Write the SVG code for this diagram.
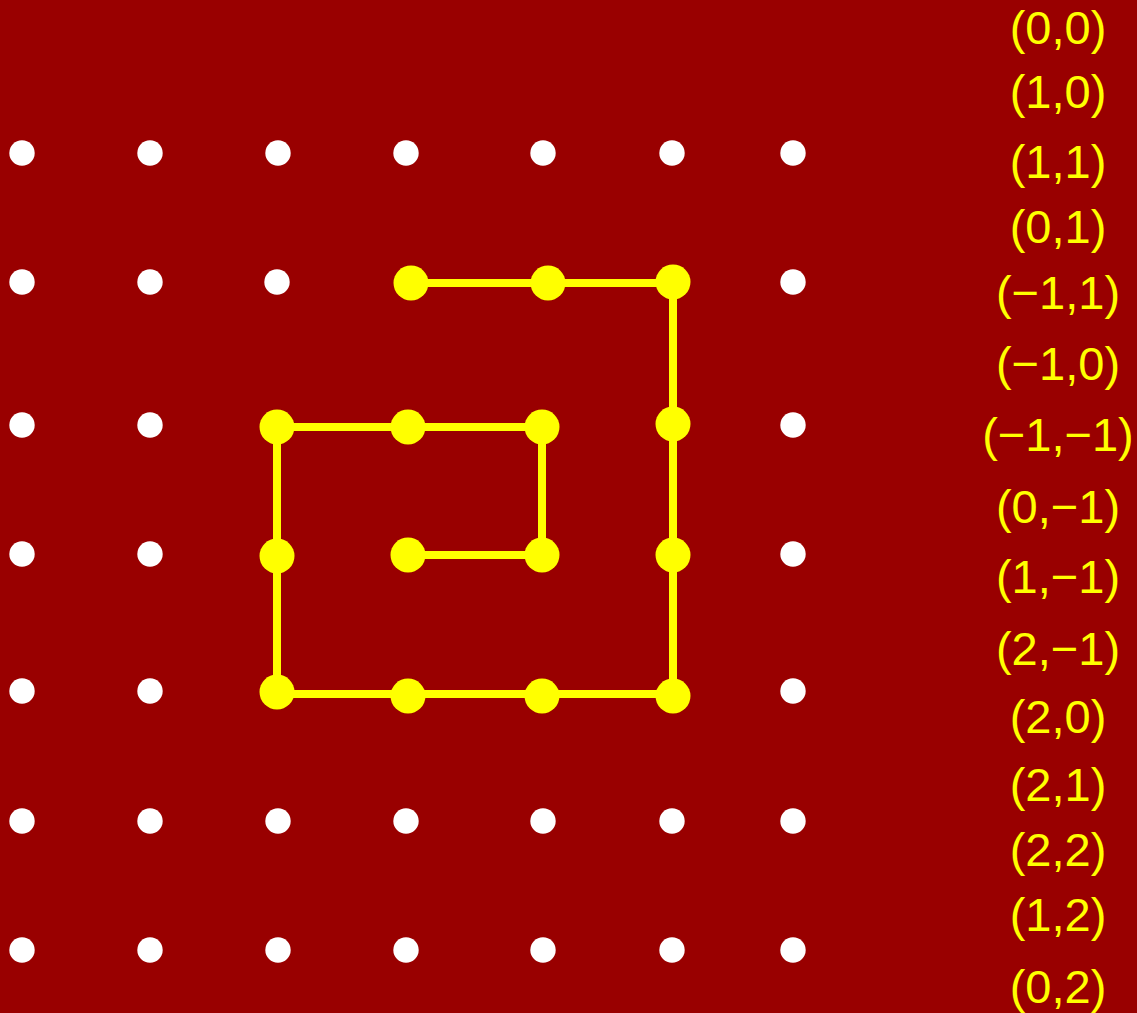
<svg xmlns="http://www.w3.org/2000/svg" width="1137" height="1013" viewBox="0 0 1137 1013">
<style>
.g{fill:#ffffff}
.y{fill:#ffff00}
.lbl{font-family:"Liberation Sans",Arial,sans-serif;font-size:47px;fill:#ffff00;text-anchor:middle}
.path{fill:none;stroke:#ffff00;stroke-width:8;stroke-linejoin:miter}
</style>
<rect width="1137" height="1013" fill="#990000"/>
<g id="grid">
<circle class="g" cx="22" cy="153" r="12.7"/><circle class="g" cx="150" cy="153" r="12.7"/><circle class="g" cx="278" cy="153" r="12.7"/><circle class="g" cx="406" cy="153" r="12.7"/><circle class="g" cx="543" cy="153" r="12.7"/><circle class="g" cx="672" cy="153" r="12.7"/><circle class="g" cx="793" cy="153" r="12.7"/>
<circle class="g" cx="22" cy="282" r="12.7"/><circle class="g" cx="150" cy="282" r="12.7"/><circle class="g" cx="277" cy="282" r="12.7"/><circle class="g" cx="793" cy="282" r="12.7"/>
<circle class="g" cx="22" cy="425" r="12.7"/><circle class="g" cx="150" cy="425" r="12.7"/><circle class="g" cx="793" cy="425" r="12.7"/>
<circle class="g" cx="22" cy="554" r="12.7"/><circle class="g" cx="150" cy="554" r="12.7"/><circle class="g" cx="793" cy="554" r="12.7"/>
<circle class="g" cx="22" cy="691" r="12.7"/><circle class="g" cx="150" cy="691" r="12.7"/><circle class="g" cx="793" cy="691" r="12.7"/>
<circle class="g" cx="22" cy="821" r="12.7"/><circle class="g" cx="150" cy="821" r="12.7"/><circle class="g" cx="278" cy="821" r="12.7"/><circle class="g" cx="406" cy="821" r="12.7"/><circle class="g" cx="543" cy="821" r="12.7"/><circle class="g" cx="672" cy="821" r="12.7"/><circle class="g" cx="793" cy="821" r="12.7"/>
<circle class="g" cx="22" cy="950" r="12.7"/><circle class="g" cx="150" cy="950" r="12.7"/><circle class="g" cx="278" cy="950" r="12.7"/><circle class="g" cx="406" cy="950" r="12.7"/><circle class="g" cx="543" cy="950" r="12.7"/><circle class="g" cx="672" cy="950" r="12.7"/><circle class="g" cx="793" cy="950" r="12.7"/>
</g>
<g id="connectors">
<polyline class="path" points="408,555 542,555 542,427 408,427 277,427 277,556 277,694 408,694 542,694 673,694 673,555 673,424 673,283 548,283 411,283"/>
</g>
<g id="spiral-nodes">
<circle class="y" cx="408" cy="555" r="17.5"/>
<circle class="y" cx="542" cy="555" r="17.5"/>
<circle class="y" cx="542" cy="427" r="17.5"/>
<circle class="y" cx="408" cy="427" r="17.5"/>
<circle class="y" cx="277" cy="427" r="17.5"/>
<circle class="y" cx="277" cy="556" r="17.5"/>
<circle class="y" cx="277" cy="692" r="17.5"/>
<circle class="y" cx="408" cy="696" r="17.5"/>
<circle class="y" cx="542" cy="696" r="17.5"/>
<circle class="y" cx="673" cy="696" r="17.5"/>
<circle class="y" cx="673" cy="555" r="17.5"/>
<circle class="y" cx="673" cy="424" r="17.5"/>
<circle class="y" cx="673" cy="282" r="17.5"/>
<circle class="y" cx="548" cy="283" r="17.5"/>
<circle class="y" cx="411" cy="283" r="17.5"/>
</g>
<g id="labels">
<text class="lbl" x="1058" y="44">(0,0)</text>
<text class="lbl" x="1058" y="108">(1,0)</text>
<text class="lbl" x="1058" y="178">(1,1)</text>
<text class="lbl" x="1058" y="243">(0,1)</text>
<text class="lbl" x="1058" y="309">(−1,1)</text>
<text class="lbl" x="1058" y="380">(−1,0)</text>
<text class="lbl" x="1058" y="451">(−1,−1)</text>
<text class="lbl" x="1058" y="523">(0,−1)</text>
<text class="lbl" x="1058" y="593">(1,−1)</text>
<text class="lbl" x="1058" y="665">(2,−1)</text>
<text class="lbl" x="1058" y="733">(2,0)</text>
<text class="lbl" x="1058" y="801">(2,1)</text>
<text class="lbl" x="1058" y="866">(2,2)</text>
<text class="lbl" x="1058" y="931">(1,2)</text>
<text class="lbl" x="1058" y="1003">(0,2)</text>
</g>
</svg>
